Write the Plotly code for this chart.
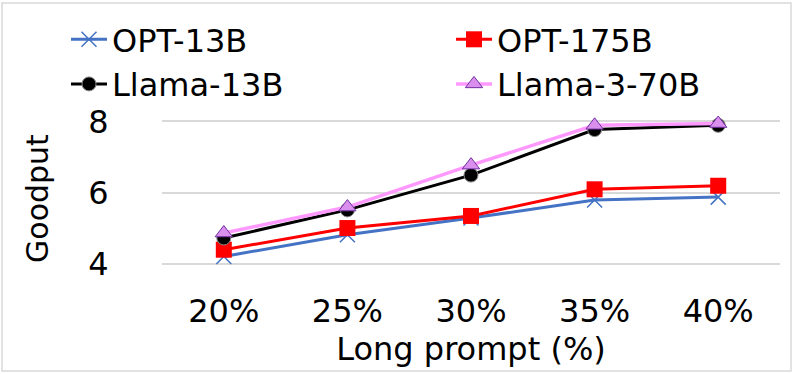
import plotly.graph_objects as go

categories = ["20%", "25%", "30%", "35%", "40%"]
opt_13b = [4.2, 4.81, 5.28, 5.79, 5.87]
opt_175b = [4.39, 5.0, 5.34, 6.09, 6.19]
llama_13b = [4.72, 5.51, 6.49, 7.77, 7.89]
llama3_70b = [4.86, 5.59, 6.77, 7.89, 7.94]
y_ticks = [4, 6, 8]

FONT = "DejaVu Sans"
W, H = 797, 374
L, R, T, B = 162, 17, 119.6, 108.6

fig = go.Figure()
fig.add_trace(go.Scatter(x=categories, y=opt_13b, name="OPT-13B", mode="lines+markers",
                         legend="legend",
                         line=dict(color="#4472C4", width=3),
                         marker=dict(symbol="x-thin", size=15, line=dict(color="#4472C4", width=1.5)),
                         cliponaxis=False))
fig.add_trace(go.Scatter(x=categories, y=opt_175b, name="OPT-175B", mode="lines+markers",
                         legend="legend2",
                         line=dict(color="#FF0000", width=3),
                         marker=dict(symbol="square", size=16, color="#FF0000"),
                         cliponaxis=False))
fig.add_trace(go.Scatter(x=categories, y=llama_13b, name="Llama-13B", mode="lines+markers",
                         legend="legend",
                         line=dict(color="#000000", width=3),
                         marker=dict(symbol="circle", size=14, color="#000000", line=dict(color="#888888", width=1)),
                         cliponaxis=False))
fig.add_trace(go.Scatter(x=categories, y=llama3_70b, name="Llama-3-70B", mode="lines+markers",
                         legend="legend2",
                         line=dict(color="#FF99FF", width=3.5),
                         marker=dict(symbol="triangle-up", size=15, color="#DA8FEF", line=dict(color="#7030A0", width=1)),
                         cliponaxis=False))

# light border around the whole picture
pw = W - L - R
ph = H - T - B
x0 = (2 - L) / pw
x1 = (791 - L) / pw
y0 = (H - B - 372) / ph
y1 = (H - B - 2) / ph
fig.add_shape(type="rect", xref="paper", yref="paper", x0=x0, x1=x1, y0=y0, y1=y1,
              line=dict(color="#D9D9D9", width=1.5), fillcolor="rgba(0,0,0,0)", layer="below")

# y-axis title placed as rotated text
fig.add_annotation(text="Goodput", xref="paper", yref="paper",
                   x=(38 - L) / pw, y=(H - B - 199) / ph, textangle=-90,
                   showarrow=False, xanchor="center", yanchor="middle",
                   font=dict(size=30, family=FONT, color="black"))

leg_common = dict(orientation="v", xref="container", yref="container",
                  xanchor="left", yanchor="top", y=1 - 12 / H,
                  font=dict(size=32, family=FONT), itemwidth=36,
                  tracegroupgap=0, bgcolor="rgba(0,0,0,0)", traceorder="normal")

fig.update_layout(
    width=W, height=H,
    margin=dict(l=L, r=R, t=T, b=B, autoexpand=False),
    paper_bgcolor="white", plot_bgcolor="white",
    font=dict(family=FONT, color="black"),
    showlegend=True,
    legend=dict(x=66 / W, **leg_common),
    legend2=dict(x=451 / W, **leg_common),
    xaxis=dict(range=[-0.5, 4.5], showgrid=False, zeroline=False, showline=False,
               ticks="outside", ticklen=18, tickcolor="rgba(0,0,0,0)",
               tickfont=dict(size=32, family=FONT),
               title=dict(text="Long prompt (%)", font=dict(size=32, family=FONT), standoff=4)),
    yaxis=dict(range=[3.96, 8.04], tickvals=y_ticks, showgrid=True, gridcolor="#D9D9D9", gridwidth=1.5,
               zeroline=False, showline=False,
               ticks="outside", ticklen=46, tickcolor="rgba(0,0,0,0)",
               tickfont=dict(size=32, family=FONT)),
)

fig.write_html("out.html", config={"displayModeBar": False},
               post_script="document.body.style.margin='0';")
